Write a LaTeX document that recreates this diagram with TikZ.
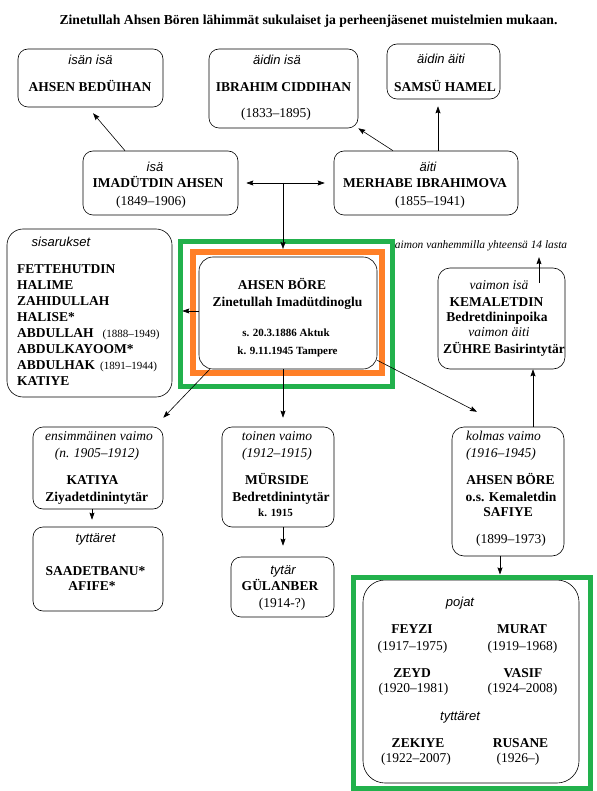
\documentclass[tikz,border=0pt]{standalone}
\usepackage{fontspec}
\setmainfont{Liberation Serif}
\newfontfamily\sans{Liberation Sans}
\usetikzlibrary{arrows.meta}
\definecolor{vihrea}{HTML}{22B14C}
\definecolor{oranssi}{HTML}{FF7F27}
\tikzset{
  karki/.tip={Stealth[length=7pt,width=5pt,inset=1pt]},
  pil/.style={-karki, line width=0.6pt},
  laatikko/.style={draw, rounded corners=10pt, line width=0.6pt, inner sep=0pt},
  kehys/.style={draw=#1, inner sep=0pt},
  otsikko/.style={anchor=base, inner sep=0pt, font=\fontsize{13.7}{16}\selectfont\bfseries},
  nimi/.style={anchor=base, inner sep=0pt, font=\fontsize{13.5}{16}\selectfont\bfseries},
  vuosi/.style={anchor=base, inner sep=0pt, font=\fontsize{13.5}{16}\selectfont},
  rooli/.style={anchor=base, inner sep=0pt, font=\sans\fontsize{13}{16}\selectfont\itshape},
  vrooli/.style={anchor=base, inner sep=0pt, font=\fontsize{13.5}{16}\selectfont\itshape},
  pieni/.style={anchor=base, inner sep=0pt, font=\fontsize{11}{13}\selectfont\bfseries}
}
\begin{document}
\begin{tikzpicture}[x=1pt,y=-1pt]
\useasboundingbox (0,0) rectangle (596,791);
\node[otsikko] (otsikkoteksti) at (308.5,24.5) {Zinetullah Ahsen Bören lähimmät sukulaiset ja perheenjäsenet muistelmien mukaan.};

\node[laatikko, minimum width=145, minimum height=58] (isanisa) at (90.5,78) {};
\node[laatikko, minimum width=149, minimum height=79] (aidinisa) at (283.5,88.5) {};
\node[laatikko, minimum width=113, minimum height=55] (aidinaiti) at (443.5,71.5) {};
\node[laatikko, minimum width=155, minimum height=64] (isa) at (160.5,183) {};
\node[laatikko, minimum width=184, minimum height=64] (aiti) at (426,183) {};
\node[laatikko, rounded corners=16pt, minimum width=165, minimum height=168] (sisarukset) at (89.5,313) {};
\node[laatikko, rounded corners=14pt, minimum width=178, minimum height=112] (zinetullah) at (288,313) {};
\node[laatikko, rounded corners=12pt, minimum width=127, minimum height=101] (vaimonisa) at (501.5,318.5) {};
\node[laatikko, minimum width=130, minimum height=82] (ensvaimo) at (98,468) {};
\node[laatikko, minimum width=130, minimum height=84] (tyttaret) at (98,569) {};
\node[laatikko, minimum width=112, minimum height=100] (toinenvaimo) at (278,477) {};
\node[laatikko, minimum width=103, minimum height=60] (tytar) at (282.5,587) {};
\node[laatikko, rounded corners=12pt, minimum width=112, minimum height=129] (kolmasvaimo) at (508,491.5) {};
\node[laatikko, rounded corners=22pt, minimum width=216, minimum height=203] (lapset) at (471,681.5) {};

\node[rooli] (isanisa-r) at (90.5,64.4) {isän isä};
\node[nimi] (isanisa-n) at (90,91.5) {AHSEN BEDÜIHAN};
\node[rooli] (aidinisa-r) at (277,64.4) {äidin isä};
\node[nimi] (aidinisa-n) at (283.5,91.5) {IBRAHIM CIDDIHAN};
\node[vuosi] (aidinisa-v) at (276,117.5) {(1833–1895)};
\node[rooli] (aidinaiti-r) at (441,63.4) {äidin äiti};
\node[nimi] (aidinaiti-n) at (445,91.5) {SAMSÜ HAMEL};
\node[rooli] (isa-r) at (155,171.4) {isä};
\node[nimi] (isa-n) at (158,187.5) {IMADÜTDIN AHSEN};
\node[vuosi] (isa-v) at (151,205.5) {(1849–1906)};
\node[rooli] (aiti-r) at (428,171.4) {äiti};
\node[nimi] (aiti-n) at (425,187.5) {MERHABE IBRAHIMOVA};
\node[vuosi] (aiti-v) at (430,205.5) {(1855–1941)};

\node[rooli] (sisarukset-r) at (61,246.4) {sisarukset};
\node[nimi, anchor=base west] (sisar1) at (17,273.5) {FETTEHUTDIN};
\node[nimi, anchor=base west] (sisar2) at (17,289.5) {HALIME};
\node[nimi, anchor=base west] (sisar3) at (17,305.5) {ZAHIDULLAH};
\node[nimi, anchor=base west] (sisar4) at (17,321.5) {HALISE*};
\node[nimi, anchor=base west] (sisar5) at (17,337.5) {ABDULLAH\hspace{9pt}{\fontsize{11}{13}\selectfont\mdseries (1888–1949)}};
\node[nimi, anchor=base west] (sisar6) at (17,353.5) {ABDULKAYOOM*};
\node[nimi, anchor=base west] (sisar7) at (17,369.5) {ABDULHAK\hspace{5pt}{\fontsize{11}{13}\selectfont\mdseries (1891–1944)}};
\node[nimi, anchor=base west] (sisar8) at (17,385.5) {KATIYE};

\node[nimi] (zinetullah-n) at (282,289.5) {AHSEN BÖRE};
\node[nimi] (zinetullah-n2) at (287.5,306) {Zinetullah Imadütdinoglu};
\node[pieni] (zinetullah-s) at (286,336.7) {s. 20.3.1886 Aktuk};
\node[pieni] (zinetullah-k) at (287.5,354.7) {k. 9.11.1945 Tampere};

\node[anchor=base, inner sep=0pt, font=\fontsize{11.4}{13}\selectfont\itshape] (vanhemmat) at (478.5,248.5) {vaimon vanhemmilla yhteensä 14 lasta};
\node[vrooli] (vaimonisa-r) at (499,289) {vaimon isä};
\node[nimi] (vaimonisa-n) at (496.5,306.5) {KEMALETDIN};
\node[nimi] (vaimonisa-n2) at (497,321) {Bedretdininpoika};
\node[vrooli] (vaimonaiti-r) at (499,336.3) {vaimon äiti};
\node[nimi] (vaimonaiti-n) at (504,353) {ZÜHRE Basirintytär};

\node[vrooli] (ensvaimo-r) at (99,440) {ensimmäinen vaimo};
\node[vrooli] (ensvaimo-v) at (97,457.5) {(n. 1905–1912)};
\node[nimi] (ensvaimo-n) at (92.5,484.5) {KATIYA};
\node[nimi] (ensvaimo-n2) at (96.7,501) {Ziyadetdinintytär};
\node[rooli] (tyttaret-r) at (95.5,542.4) {tyttäret};
\node[nimi] (tyttaret-n) at (95.5,575.5) {SAADETBANU*};
\node[nimi] (tyttaret-n2) at (92,590.5) {AFIFE*};

\node[vrooli] (toinenvaimo-r) at (277,440) {toinen vaimo};
\node[vrooli] (toinenvaimo-v) at (277,457.5) {(1912–1915)};
\node[nimi] (toinenvaimo-n) at (277,484.5) {MÜRSIDE};
\node[nimi] (toinenvaimo-n2) at (281,501) {Bedretdinintytär};
\node[pieni] (toinenvaimo-k) at (275.5,516.7) {k. 1915};
\node[rooli] (tytar-r) at (283,574.4) {tytär};
\node[nimi] (tytar-n) at (280,590.5) {GÜLANBER};
\node[vuosi] (tytar-v) at (282,607.5) {(1914-?)};

\node[vrooli] (kolmasvaimo-r) at (503.5,440) {kolmas vaimo};
\node[vrooli] (kolmasvaimo-v) at (501,457.5) {(1916–1945)};
\node[nimi] (kolmasvaimo-n) at (510.5,484.5) {AHSEN BÖRE};
\node[nimi] (kolmasvaimo-n2) at (511,501) {o.s. Kemaletdin};
\node[nimi] (kolmasvaimo-n3) at (508,516.5) {SAFIYE};
\node[vuosi] (kolmasvaimo-v2) at (511,543.5) {(1899–1973)};

\node[rooli] (pojat) at (460,606.4) {pojat};
\node[nimi] (feyzi) at (412,633.5) {FEYZI};
\node[vuosi] (feyzi-v) at (412.5,650.5) {(1917–1975)};
\node[nimi] (murat) at (522,633.5) {MURAT};
\node[vuosi] (murat-v) at (522.5,650.5) {(1919–1968)};
\node[nimi] (zeyd) at (412,677.5) {ZEYD};
\node[vuosi] (zeyd-v) at (413.5,692.5) {(1920–1981)};
\node[nimi] (vasif) at (523,677.5) {VASIF};
\node[vuosi] (vasif-v) at (522.5,692.5) {(1924–2008)};
\node[rooli] (lapset-tyttaret) at (460,720.4) {tyttäret};
\node[nimi] (zekiye) at (418,747.5) {ZEKIYE};
\node[vuosi] (zekiye-v) at (416,762.5) {(1922–2007)};
\node[nimi] (rusane) at (520.5,747.5) {RUSANE};
\node[vuosi] (rusane-v) at (518,762.5) {(1926–)};

\node[kehys=oranssi, line width=6pt, minimum width=189, minimum height=121] (oranssikehys) at (287.5,312.5) {};
\node[kehys=vihrea, line width=5pt, minimum width=212, minimum height=144] (vihreakehys) at (286,314) {};
\node[kehys=vihrea, line width=5pt, minimum width=237, minimum height=211] (lapsikehys) at (471.5,682.5) {};

\coordinate (liitos) at (283,183);
\draw[pil, shorten >=7.8pt] ([xshift=-35.5]isa.north) -- ([xshift=-2.5]isanisa.south);
\draw[pil] ([xshift=-33]aiti.north) -- (aidinisa.south east);
\draw[pil, shorten >=7pt] ([xshift=12]aiti.north) -- ([xshift=-5.5]aidinaiti.south);
\draw[karki-karki, line width=0.6pt, shorten <=8pt, shorten >=9pt] (isa.east) -- (aiti.west);
\draw[pil] (liitos) -- (liitos |- oranssikehys.north);
\draw[pil, shorten >=10pt] ([yshift=2]zinetullah.west) -- ([yshift=2]sisarukset.east);
\draw[pil, shorten >=12.4pt] ([xshift=11]zinetullah.south west) -- ([xshift=-8.6]ensvaimo.north east);
\draw[pil, shorten >=9pt] ([xshift=-5]zinetullah.south) -- ([xshift=5]toinenvaimo.north);
\draw[pil, shorten >=32.5pt] ([yshift=9]zinetullah.south east) -- ([xshift=-2.2]kolmasvaimo.north);
\draw[pil, shorten >=7pt] ([xshift=-6]ensvaimo.south) -- ([xshift=-6]tyttaret.north);
\draw[pil, shorten >=11pt] ([xshift=5]toinenvaimo.south) -- ([xshift=0.5]tytar.north);
\draw[pil] ([xshift=25]kolmasvaimo.north) -- ([xshift=31.5]vaimonisa.south);
\draw[pil] ([xshift=37.5,yshift=-15]vaimonisa.north) -- ([xshift=60.5,yshift=-6]vanhemmat.south);
\draw[pil] ([xshift=-8]kolmasvaimo.south) -- ([xshift=28.5]lapsikehys.north);
\end{tikzpicture}
\end{document}
